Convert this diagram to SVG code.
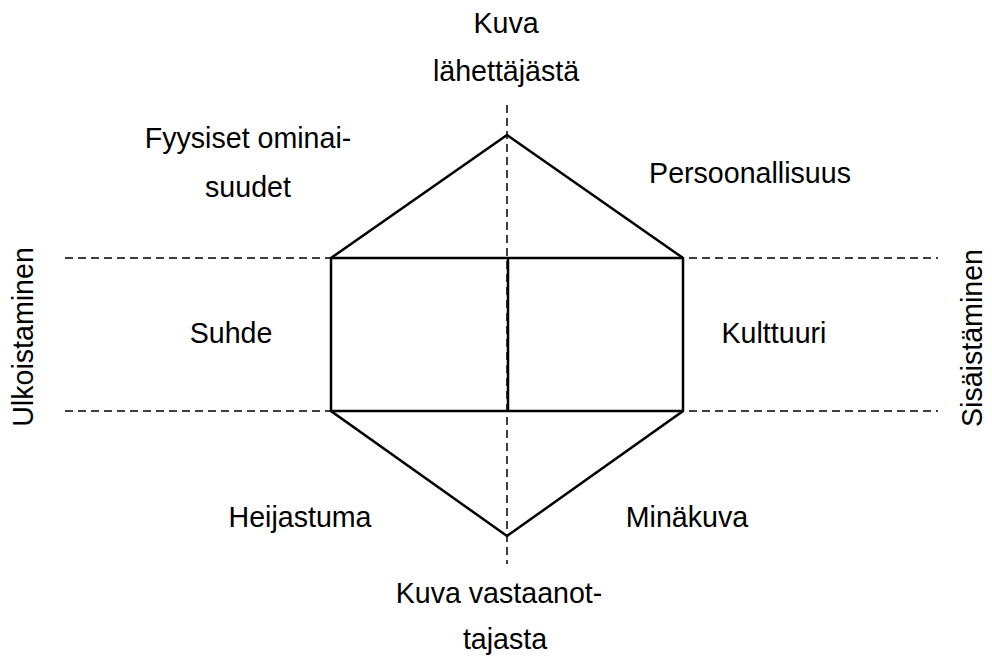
<svg xmlns="http://www.w3.org/2000/svg" width="992" height="666" viewBox="0 0 992 666">
<style>
text{font-family:"Liberation Sans",Arial,sans-serif;font-size:28.6px;fill:#000;text-anchor:middle}
.d{stroke:#000;stroke-width:1.5;stroke-dasharray:8,5;fill:none}
.s{stroke:#000;stroke-width:2.5;fill:none;stroke-linejoin:miter}
</style>
<rect width="992" height="666" fill="#fff"/>
<g id="guides">
<line class="d" x1="65" y1="258" x2="938" y2="258"/>
<line class="d" x1="65" y1="411" x2="938" y2="411"/>
<line class="d" x1="507" y1="105" x2="507" y2="564"/>
</g>
<g id="prism">
<polygon class="s" points="507,135 683,258 683,411 507,536 331,411 331,258"/>
<line class="s" x1="331" y1="258" x2="683" y2="258"/>
<line class="s" x1="331" y1="411" x2="683" y2="411"/>
<line class="s" x1="508" y1="258" x2="508" y2="411"/>
</g>
<g id="labels">
<text x="506" y="33">Kuva</text>
<text x="506" y="81">lähettäjästä</text>
<text x="248" y="148">Fyysiset ominai-</text>
<text x="248" y="197">suudet</text>
<text x="750" y="183">Persoonallisuus</text>
<text x="231" y="343">Suhde</text>
<text x="774" y="343">Kulttuuri</text>
<text x="300" y="527">Heijastuma</text>
<text x="687" y="527">Minäkuva</text>
<text x="499" y="603">Kuva vastaanot-</text>
<text x="505" y="649">tajasta</text>
<text transform="translate(33,337) rotate(-90)">Ulkoistaminen</text>
<text transform="translate(982,338) rotate(-90)">Sisäistäminen</text>
</g>
</svg>
